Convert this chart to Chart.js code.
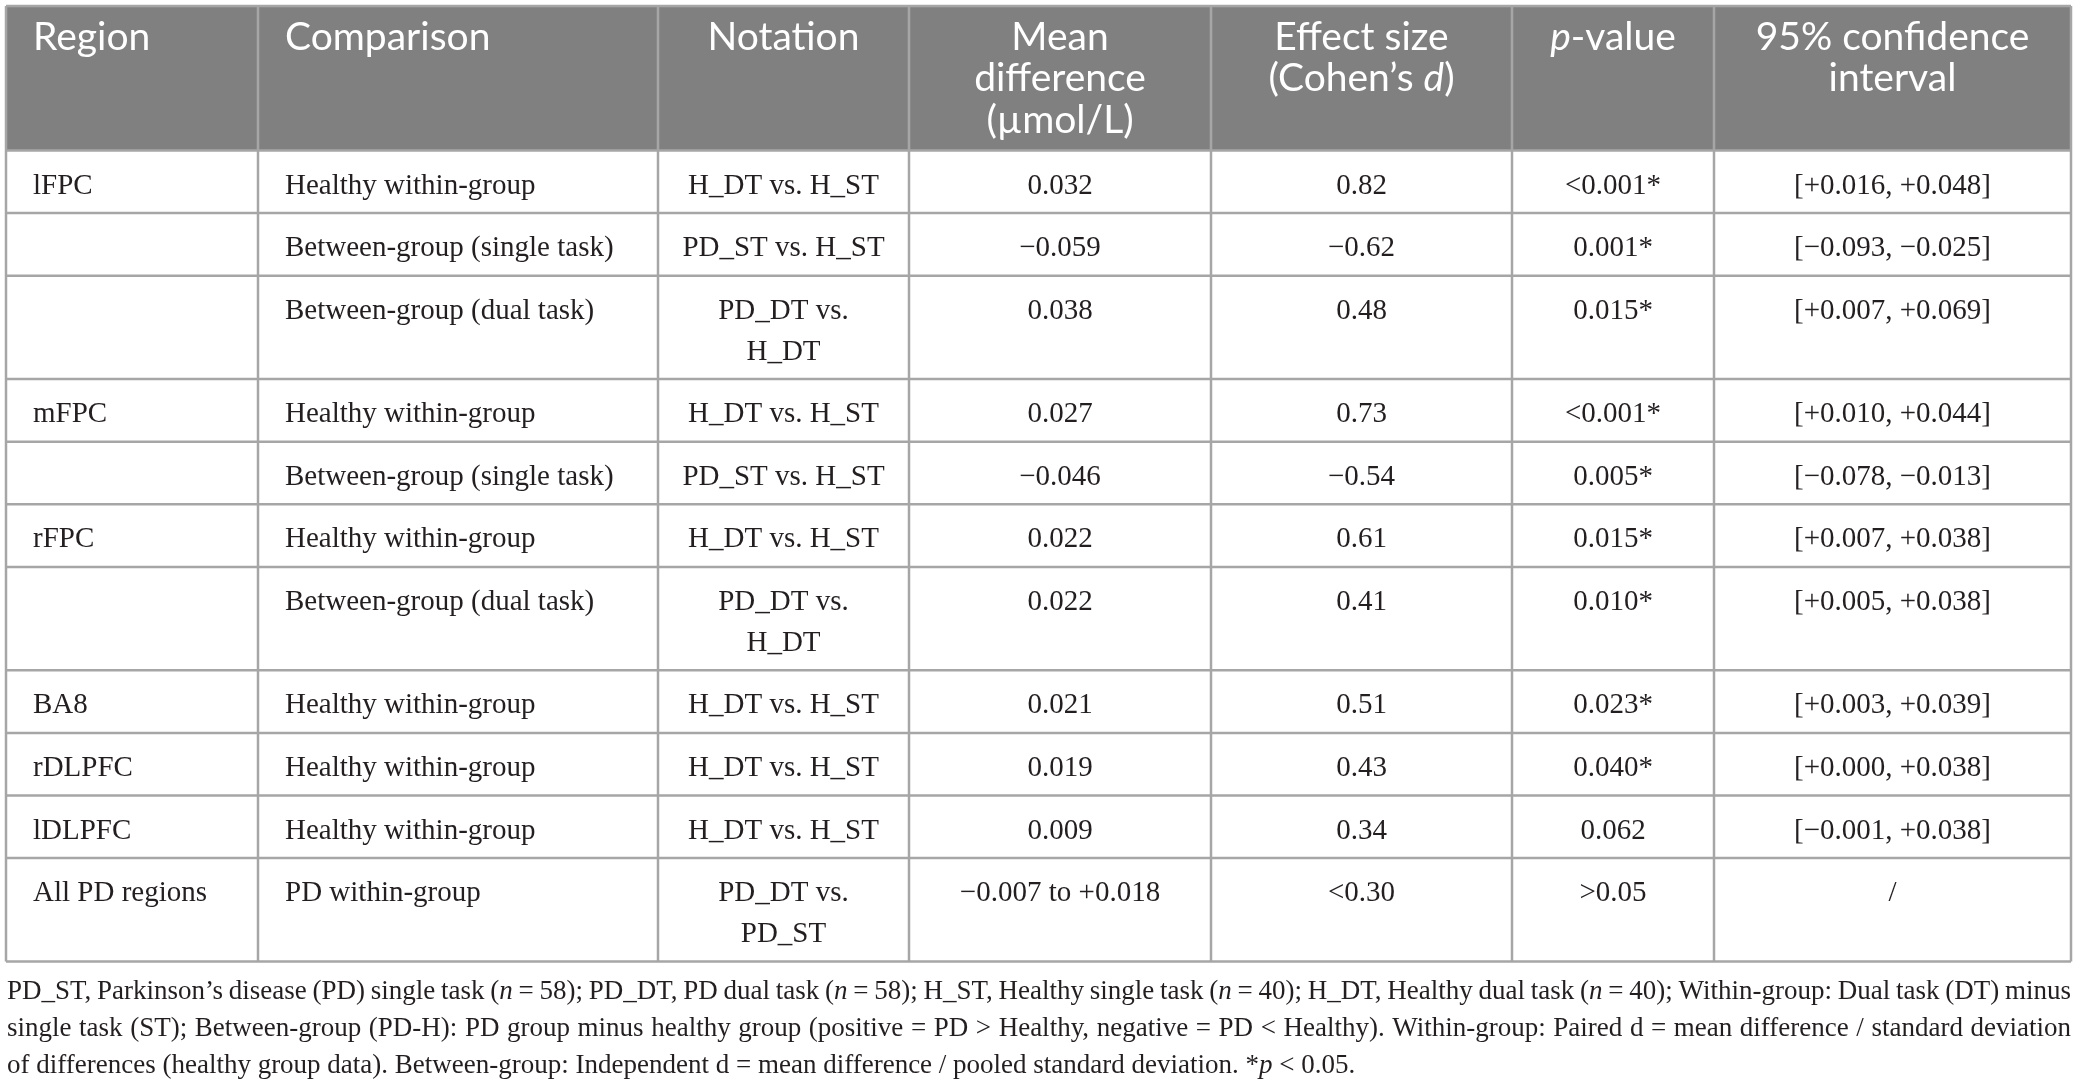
<!DOCTYPE html>
<html>
<head>
<meta charset="utf-8">
<title>Table</title>
<script src="https://cdn.jsdelivr.net/npm/chart.js@4.4.1/dist/chart.umd.min.js"></script>
<style>
  html, body { margin: 0; padding: 0; background: #fff; }
  #wrap { width: 2077px; height: 1089px; position: relative; }
</style>
</head>
<body>
<div id="wrap"><canvas id="tableChart"></canvas></div>
<script>
// --- Datos de la tabla (| marca cursiva) ---
const headers = ['Region', 'Comparison', 'Notation', 'Mean\ndifference\n(\u00b5mol/L)', 'Effect size\n(Cohen\u2019s |d|)', '|p|-value', '95% confidence\ninterval'];
const regions = ['lFPC', '', '', 'mFPC', '', 'rFPC', '', 'BA8', 'rDLPFC', 'lDLPFC', 'All PD regions'];
const comparisons = ['Healthy within-group', 'Between-group (single task)', 'Between-group (dual task)', 'Healthy within-group', 'Between-group (single task)', 'Healthy within-group', 'Between-group (dual task)', 'Healthy within-group', 'Healthy within-group', 'Healthy within-group', 'PD within-group'];
const notations = ['H_DT vs. H_ST', 'PD_ST vs. H_ST', 'PD_DT vs.\nH_DT', 'H_DT vs. H_ST', 'PD_ST vs. H_ST', 'H_DT vs. H_ST', 'PD_DT vs.\nH_DT', 'H_DT vs. H_ST', 'H_DT vs. H_ST', 'H_DT vs. H_ST', 'PD_DT vs.\nPD_ST'];
const meanDiffs = ['0.032', '\u22120.059', '0.038', '0.027', '\u22120.046', '0.022', '0.022', '0.021', '0.019', '0.009', '\u22120.007 to +0.018'];
const effectSizes = ['0.82', '\u22120.62', '0.48', '0.73', '\u22120.54', '0.61', '0.41', '0.51', '0.43', '0.34', '<0.30'];
const pValues = ['<0.001*', '0.001*', '0.015*', '<0.001*', '0.005*', '0.015*', '0.010*', '0.023*', '0.040*', '0.062', '>0.05'];
const confIntervals = ['[+0.016, +0.048]', '[\u22120.093, \u22120.025]', '[+0.007, +0.069]', '[+0.010, +0.044]', '[\u22120.078, \u22120.013]', '[+0.007, +0.038]', '[+0.005, +0.038]', '[+0.003, +0.039]', '[+0.000, +0.038]', '[\u22120.001, +0.038]', '/'];
const footnoteLines = [
    'PD_ST, Parkinson\u2019s disease (PD) single task (|n| = 58); PD_DT, PD dual task (|n| = 58); H_ST, Healthy single task (|n| = 40); H_DT, Healthy dual task (|n| = 40); Within-group: Dual task (DT) minus',
    'single task (ST); Between-group (PD-H): PD group minus healthy group (positive = PD > Healthy, negative = PD < Healthy). Within-group: Paired d = mean difference / standard deviation',
    'of differences (healthy group data). Between-group: Independent d = mean difference / pooled standard deviation. *|p| < 0.05.'
];

// --- Maquetación (unidades de la escala) ---
const colEdges = [6, 258, 658, 909, 1211, 1512, 1714, 2071];
const colAlign = ['left', 'left', 'center', 'center', 'center', 'center', 'center'];
const tableTop = 6, headerBottom = 150.5;
const rowPad = 21.8, rowLine = 40.8;
const cellPadX = 27, firstBaseline = 43, headBaseline = 43.5, headLine = 41.5;
const footTop = 999, footLine = 37;

const FONT_BODY = '"Liberation Serif", "Times New Roman", serif';
const FONT_HEAD = 'Lato, "Open Sans", sans-serif';
const bodySize = 29, headSize = 39, footSize = 27;

function runs(text) {
    return text.split('|').map((t, i) => ({ t, it: i % 2 === 1 }));
}
function fontFor(size, fam, it) { return (it ? 'italic ' : '') + size + 'px ' + fam; }
function measureRich(ctx, text, size, fam) {
    let w = 0;
    runs(text).forEach(r => { ctx.font = fontFor(size, fam, r.it); w += ctx.measureText(r.t).width; });
    return w;
}
function drawRich(ctx, text, x, y, size, fam, align) {
    let w = measureRich(ctx, text, size, fam);
    let cx = align === 'center' ? x - w / 2 : x;
    ctx.textAlign = 'left';
    runs(text).forEach(r => {
        ctx.font = fontFor(size, fam, r.it);
        ctx.fillText(r.t, cx, y);
        cx += ctx.measureText(r.t).width;
    });
}
function drawJustified(ctx, text, x0, x1, y, size, fam) {
    const words = text.split(' ');
    const widths = words.map(wd => measureRich(ctx, wd, size, fam));
    const gap = (x1 - x0 - widths.reduce((a, b) => a + b, 0)) / (words.length - 1);
    let cx = x0;
    words.forEach((wd, i) => { drawRich(ctx, wd, cx, y, size, fam, 'left'); cx += widths[i] + gap; });
}

const tablePlugin = {
    id: 'tablePlugin',
    afterDraw(chart) {
        const { ctx, scales: { x, y } } = chart;
        const px = v => x.getPixelForValue(v);
        const py = v => y.getPixelForValue(v);
        const columns = [regions, comparisons, notations, meanDiffs, effectSizes, pValues, confIntervals];

        // límites de filas según número de líneas
        const rowEdges = [headerBottom];
        regions.forEach((_, i) => {
            const lines = Math.max(...columns.map(c => c[i].split('\n').length));
            rowEdges.push(rowEdges[i] + rowPad + rowLine * lines);
        });
        const tableBottom = rowEdges[rowEdges.length - 1];

        ctx.save();
        ctx.textBaseline = 'alphabetic';
        // cabecera
        ctx.fillStyle = '#808080';
        ctx.fillRect(px(colEdges[0]), py(tableTop), px(colEdges[7]) - px(colEdges[0]), py(headerBottom) - py(tableTop));
        ctx.fillStyle = '#ffffff';
        headers.forEach((h, c) => {
            const tx = colAlign[c] === 'left' ? colEdges[c] + cellPadX : (colEdges[c] + colEdges[c + 1]) / 2;
            h.split('\n').forEach((ln, k) => drawRich(ctx, ln, px(tx), py(tableTop + headBaseline + k * headLine), headSize, FONT_HEAD, colAlign[c]));
        });

        // celdas
        ctx.fillStyle = '#231f20';
        columns.forEach((col, c) => {
            const tx = colAlign[c] === 'left' ? colEdges[c] + cellPadX : (colEdges[c] + colEdges[c + 1]) / 2;
            col.forEach((val, i) => {
                val.split('\n').forEach((ln, k) => drawRich(ctx, ln, px(tx), py(rowEdges[i] + firstBaseline + k * rowLine), bodySize, FONT_BODY, colAlign[c]));
            });
        });

        // líneas
        ctx.strokeStyle = '#a6a6a6';
        ctx.lineWidth = 2.5;
        ctx.beginPath();
        colEdges.forEach(cx => { ctx.moveTo(px(cx), py(tableTop)); ctx.lineTo(px(cx), py(tableBottom)); });
        [tableTop].concat(rowEdges).forEach(ry => { ctx.moveTo(px(colEdges[0]), py(ry)); ctx.lineTo(px(colEdges[7]), py(ry)); });
        ctx.stroke();

        // nota al pie
        ctx.fillStyle = '#231f20';
        footnoteLines.forEach((ln, k) => {
            const fy = py(footTop + k * footLine);
            if (k < footnoteLines.length - 1) drawJustified(ctx, ln, px(7), px(2071), fy, footSize, FONT_BODY);
            else drawRich(ctx, ln, px(7), fy, footSize, FONT_BODY, 'left');
        });
        ctx.restore();
    }
};

new Chart(document.getElementById('tableChart'), {
    type: 'scatter',
    data: { datasets: [] },
    options: {
        responsive: true,
        maintainAspectRatio: false,
        animation: false,
        layout: { padding: 0 },
        plugins: { legend: { display: false }, tooltip: { enabled: false } },
        scales: {
            x: { type: 'linear', min: 0, max: 2077, display: false },
            y: { type: 'linear', min: 0, max: 1089, reverse: true, display: false }
        }
    },
    plugins: [tablePlugin]
});
</script>
</body>
</html>
